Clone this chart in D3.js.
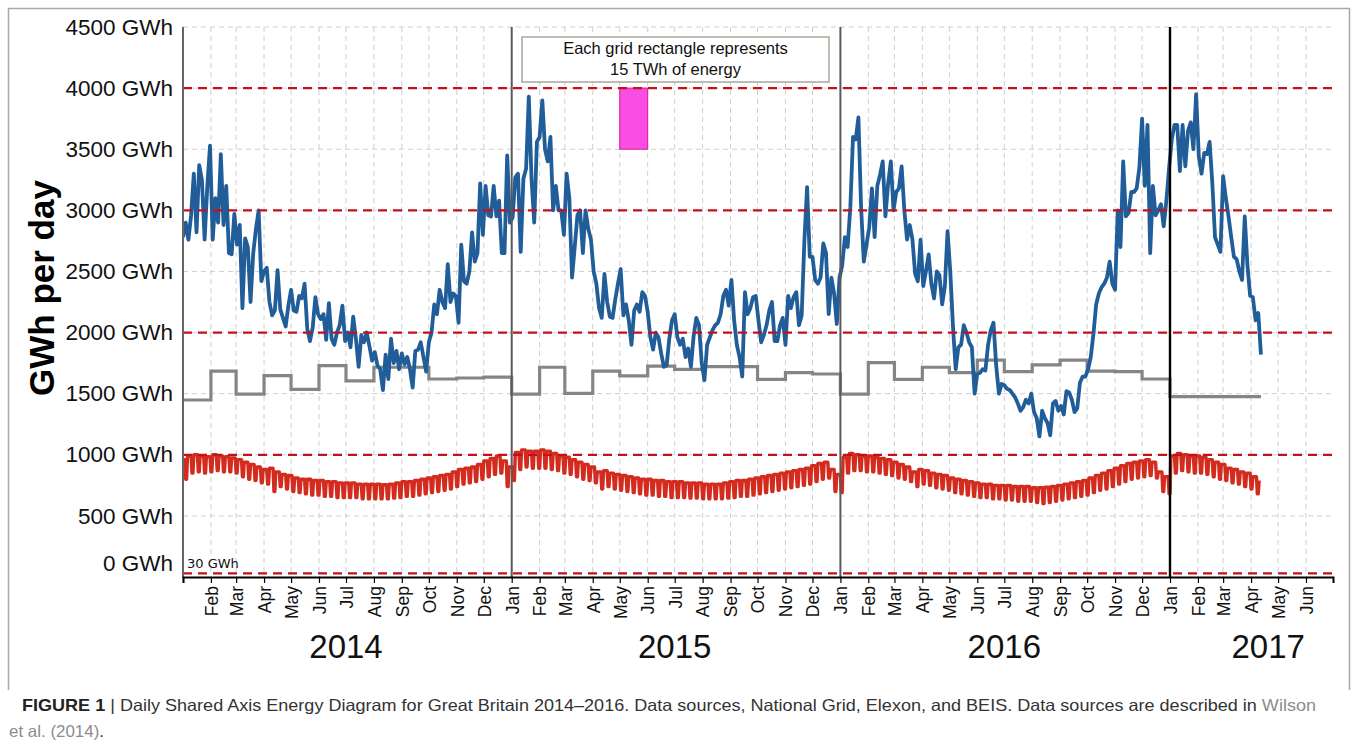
<!DOCTYPE html>
<html><head><meta charset="utf-8">
<script src="https://cdn.jsdelivr.net/npm/d3@7"></script>
<style>
body{margin:0;background:#fff;}
svg{display:block;font-family:"Liberation Sans",Arial,Helvetica,sans-serif;}
</style>
</head><body>
<svg id="chart" width="1356" height="744"></svg>
<script>
// ---------------- DATA ----------------
// Daily demand (blue), sampled every 3 days from 2014-01-01 (GWh/day)
const blueStart = "2014-01-01";
const blueStepDays = 3;
const blueValues = [
 2780,2900,2760,2960,3300,2820,3370,3250,2760,3200,
 3530,2760,3100,2900,3460,2880,3200,2650,2640,2970,
 2720,2880,2200,2770,2700,2250,2650,2850,3000,2420,
 2500,2530,2250,2140,2180,2510,2190,2120,2050,2220,
 2350,2180,2170,2300,2280,2400,2030,1930,2040,2290,
 2150,2110,2150,1940,2240,1950,1900,2000,2060,2220,
 1930,2000,1880,2130,1950,1720,1980,1920,2000,1890,
 1770,1840,1730,1700,1530,1820,1620,1950,1750,1850,
 1700,1830,1740,1800,1700,1550,1850,1860,1920,1800,
 1680,1920,2000,2230,2150,2350,2250,2200,2560,2250,
 2320,2300,2080,2720,2420,2400,2500,2820,2580,2650,
 3220,2800,3200,2960,2950,3200,2950,3080,2650,2650,
 3450,2900,2940,3270,3300,2660,3260,3340,3930,3260,
 2900,3560,3600,3900,3500,3400,3600,3000,3200,3000,
 3000,2800,3300,3100,2450,2700,2960,3000,2650,3000,
 2850,2760,2500,2400,2200,2120,2480,2250,2130,2120,
 2270,2400,2520,2140,2230,2100,1900,2180,2230,2170,
 2330,2300,2170,1960,1860,2000,1960,1830,1720,1730,
 1950,2100,2150,1960,1900,1950,1800,1870,1720,1970,
 2120,2060,1750,1610,1900,1960,2020,2060,2080,2150,
 2300,2350,2220,2430,2100,1900,1800,1640,2330,2150,
 2200,2290,2300,2100,1920,1980,2060,2180,2250,1930,
 1930,2060,2120,1900,2300,2200,2290,2330,2060,2140,
 2750,3190,2620,2620,2430,2400,2450,2730,2650,2150,
 2450,2320,2070,2450,2550,2780,2700,3020,3600,3580,
 3760,3020,2580,2720,2860,3180,2780,3200,3290,3400,
 2950,3220,3400,3000,3150,3180,3360,3000,2760,2880,
 2760,2480,2420,2760,2380,2500,2640,2400,2280,2500,
 2470,2230,2380,2830,2500,2050,1700,1880,1900,2060,
 2000,1920,1880,1500,1660,1670,1700,1690,1900,2020,
 2080,1730,1500,1580,1570,1540,1530,1500,1470,1420,
 1360,1390,1450,1420,1500,1350,1300,1150,1360,1300,
 1260,1160,1420,1440,1360,1400,1330,1520,1510,1450,
 1350,1380,1590,1640,1640,1700,1800,1990,2230,2320,
 2370,2400,2450,2580,2400,2350,3000,2700,3400,2950,
 2980,3150,3150,3180,3350,3750,3200,3700,2650,3200,
 2960,3000,3050,2870,3080,3350,3580,3700,3700,3320,
 3700,3360,3650,3720,3500,3950,3440,3300,3470,3460,
 3560,3220,2780,2720,2660,3280,3100,2950,2780,2620,
 2600,2500,2430,2950,2550,2300,2290,2100,2160,1820
];

// Electricity (red): weekly weekday level and weekend level, weeks starting Monday 2013-12-30
const redWeekStart = "2013-12-30";
const redWeekday = [
 // 2014
 960,990,1000,990,985, 1000,990,985,975, 960,940,920,900, 880,890,860,840,830,
 810,800,800,790, 790,780,780,770, 770,770,760,760,760, 760,755,760,770,
 780,780,790,800, 810,820,830,840,860, 880,890,900,920, 950,970,990,950,900,
 // 2015
 1020,1040,1030,1030, 1040,1030,1010,990, 980,960,940,920,900, 860,870,850,840,
 830,820,810,800, 800,790,790,780,780, 780,770,770,770, 760,760,760,770,
 780,790,790,800,810, 820,830,840,850, 860,870,880,890, 910,930,940,880,840,
 // 2016
 980,1010,1000,990, 990,980,970,960, 940,920,900,860,880, 870,850,840,830,
 810,800,790,780, 770,760,760,750,750, 750,740,740,740, 730,730,735,740,
 750,760,770,780,790, 810,830,850,870, 890,910,930,940, 950,960,940,860,820,
 // 2017
 990,1010,1000,990, 990,980,960,940, 920,890,880,860,850, 820,790
];
const redWeekend = [
 // 2014
 800,850,860,850,860, 870,860,860,850, 820,800,790,770, 760,700,740,720,700,
 690,680,670,670, 660,660,650,650, 650,650,640,640,640, 640,640,645,650,
 660,660,670,680, 690,700,710,720,740, 760,770,780,800, 820,840,850,740,790,
 // 2015
 880,900,890,890, 890,880,870,850, 840,820,800,790,770, 720,740,720,710,
 700,690,680,670, 670,660,660,650,650, 650,645,645,640, 640,640,640,645,
 650,660,660,670,680, 690,700,710,720, 730,740,750,760, 780,800,810,700,690,
 // 2016
 850,870,870,860, 860,850,840,830, 810,800,780,740,760, 750,730,720,710,
 690,680,670,660, 650,650,640,640,630, 630,620,620,620, 610,600,610,620,
 630,640,650,660,670, 690,710,720,740, 760,780,800,810, 820,830,810,700,680,
 // 2017
 850,870,860,850, 850,840,820,800, 790,770,760,740,720, 680,660
];

// Monthly values (grey step line), Jan 2014 - Apr 2017
const greyValues = [
 1448,1685,1497,1647,1535,1729,1604,1716,1716,1620,1628,1635,
 1497,1716,1503,1685,1645,1726,1699,1721,1721,1617,1672,1661,
 1497,1754,1617,1716,1672,1775,1680,1735,1775,1685,1680,1620,
 1475,1475,1475,1475
];
const dataEnd = "2017-04-12";

const yTicks = [0,500,1000,1500,2000,2500,3000,3500,4000,4500];
const refLines = [4000,3000,2000,1000,30];
const yearLabels = ["2014","2015","2016","2017"];
const yearLabelDates = ["2014-07-01","2015-07-01","2016-07-01","2017-04-20"];
const yearLines = ["2015-01-01","2016-01-01","2017-01-01"];
const energyBox = {start:"2015-05-01", end:"2015-06-01", low:3500, high:4000};
const legendLines = ["Each grid rectangle represents","15 TWh of energy"];

// ---------------- CHART ----------------
const parse = s => new Date(s + "T00:00:00Z");
const svg = d3.select("#chart");
const x = d3.scaleUtc().domain([parse("2014-01-01"), parse("2017-07-01")]).range([183, 1333]);
const y = d3.scaleLinear().domain([0, 4500]).range([577, 27]);
const X0 = x.range()[0], X1 = x.range()[1];

// outer frame
svg.append("path").attr("d","M8.5,690 V8.5 H1349.5 V690")
  .attr("fill","none").attr("stroke","#a8a8a8").attr("stroke-width",1.5);

// grid
const months = d3.utcMonth.range(parse("2014-02-01"), parse("2017-07-01"));
svg.append("g").selectAll("line").data(months).join("line")
  .attr("x1", d => x(d)).attr("x2", d => x(d)).attr("y1", y(4500)).attr("y2", y(0))
  .attr("stroke","#cfcfcf").attr("stroke-width",1).attr("stroke-dasharray","5,4");
svg.append("g").selectAll("line").data(yTicks.filter(v => v > 0)).join("line")
  .attr("x1", X0).attr("x2", X1).attr("y1", d => y(d)).attr("y2", d => y(d))
  .attr("stroke","#cfcfcf").attr("stroke-width",1).attr("stroke-dasharray","5,4");

// energy rectangle
svg.append("rect")
  .attr("x", x(parse(energyBox.start))).attr("width", x(parse(energyBox.end)) - x(parse(energyBox.start)))
  .attr("y", y(energyBox.high)).attr("height", y(energyBox.low) - y(energyBox.high))
  .attr("fill","#f94ee2").attr("stroke","#e3179c").attr("stroke-width",1);

// clip
svg.append("clipPath").attr("id","clip").append("rect")
  .attr("x", X0).attr("y", 0).attr("width", X1 - X0).attr("height", y(0));

const endDate = parse(dataEnd);

// grey step line
const greyDates = d3.utcMonth.range(parse("2014-01-01"), parse("2017-05-01"));
const greyPts = greyValues.map((v,i) => [greyDates[i], v]);
greyPts.push([endDate, greyValues[greyValues.length-1]]);
svg.append("path").datum(greyPts).attr("clip-path","url(#clip)")
  .attr("fill","none").attr("stroke","#858585").attr("stroke-width",3.2)
  .attr("d", d3.line().x(d => x(d[0])).y(d => y(d[1])).curve(d3.curveStepAfter));

// red weekly line
const rs = parse(redWeekStart);
const redPts = [];
redWeekday.forEach((hi, i) => {
  const lo = redWeekend[i];
  const s = d3.utcDay.offset(rs, 7*i);
  redPts.push([s, hi]);
  redPts.push([d3.utcDay.offset(s, 4), hi]);
  redPts.push([d3.utcDay.offset(s, 5), lo]);
  redPts.push([d3.utcDay.offset(s, 6), lo]);
});
svg.append("path").datum(redPts.filter(d => d[0] <= endDate)).attr("clip-path","url(#clip)")
  .attr("fill","none").attr("stroke","#d42b1f").attr("stroke-width",3.4).attr("stroke-linejoin","round")
  .attr("d", d3.line().x(d => x(d[0])).y(d => y(d[1])));

// blue line
const bs = parse(blueStart);
const bluePts = blueValues.map((v,i) => [d3.utcDay.offset(bs, i*blueStepDays), v]);
svg.append("path").datum(bluePts).attr("clip-path","url(#clip)")
  .attr("fill","none").attr("stroke","#215e99").attr("stroke-width",3.8).attr("stroke-linejoin","round")
  .attr("d", d3.line().x(d => x(d[0])).y(d => y(d[1])));

// red dashed reference lines
svg.append("g").selectAll("line").data(refLines).join("line")
  .attr("x1", X0).attr("x2", X1 + 5).attr("y1", d => y(d)).attr("y2", d => y(d))
  .attr("stroke","#c3111c").attr("stroke-width",2.2).attr("stroke-dasharray","9,6");

// year separators
svg.append("g").selectAll("line").data(yearLines).join("line")
  .attr("x1", d => x(parse(d))).attr("x2", d => x(parse(d))).attr("y1", y(4500)).attr("y2", y(0))
  .attr("stroke", (d,i) => i === 2 ? "#000" : "#5a5a5a").attr("stroke-width", (d,i) => i === 2 ? 2.4 : 2);

// y axis
const gy = svg.append("g").attr("transform", `translate(${X0},0)`)
  .call(d3.axisLeft(y).tickValues(yTicks).tickFormat(d => d + " GWh").tickSize(0).tickPadding(10));
gy.select(".domain").remove();
gy.selectAll("text").attr("font-size", 22.5).attr("fill","#111").attr("font-family","Liberation Sans, Arial, sans-serif");
gy.selectAll(".tick").filter(d => d === 0).select("text").attr("y", -14);
svg.append("line").attr("x1", X0).attr("x2", X0).attr("y1", y(4500)).attr("y2", y(0) + 1)
  .attr("stroke","#666").attr("stroke-width",2);

// x axis
const allMonths = d3.utcMonth.range(parse("2014-01-01"), parse("2017-07-01"));
const gx = svg.append("g").attr("transform", `translate(0,${y(0)})`)
  .call(d3.axisBottom(x).tickValues(allMonths).tickSize(6)
    .tickFormat(d => (+d === +parse("2014-01-01")) ? "" : d3.utcFormat("%b")(d)));
gx.select(".domain").attr("stroke","#000").attr("stroke-width",2);
gx.selectAll(".tick line").attr("stroke","#000").attr("stroke-width",1.2);
gx.selectAll("text")
  .attr("transform","rotate(-90)").attr("x",-9).attr("y",0).attr("dy","0.36em")
  .style("text-anchor","end").attr("font-size",17.5).attr("fill","#111")
  .attr("font-family","Liberation Sans, Arial, sans-serif");

// year labels
svg.append("g").selectAll("text").data(yearLabels).join("text")
  .attr("x", (d,i) => x(parse(yearLabelDates[i]))).attr("y", 658)
  .attr("text-anchor","middle").attr("font-size",33).attr("fill","#111").text(d => d);

// y title
svg.append("text").attr("transform","translate(54,288) rotate(-90)")
  .attr("text-anchor","middle").attr("font-size",35).attr("font-weight","bold").attr("fill","#000")
  .text("GWh per day");

// 30 GWh label
svg.append("text").attr("x", 187).attr("y", 568).attr("font-size",13)
  .attr("font-family","DejaVu Sans, sans-serif").attr("fill","#111").text(refLines[4] + " GWh");

// legend box
svg.append("rect").attr("x",522).attr("y",37).attr("width",307).attr("height",45)
  .attr("fill","#fff").attr("stroke","#aaa698").attr("stroke-width",1.5);
svg.append("g").selectAll("text").data(legendLines).join("text")
  .attr("x",675.5).attr("y",(d,i) => 54 + i*21).attr("text-anchor","middle")
  .attr("font-size",16.5).attr("fill","#111").text(d => d);

// caption
const cap = svg.append("text").attr("x",22).attr("y",711).attr("font-size",16.5)
  .attr("font-family","Liberation Sans Narrow, Liberation Sans, Arial, sans-serif")
  .attr("textLength",1294).attr("lengthAdjust","spacingAndGlyphs").attr("fill","#333");
cap.append("tspan").attr("font-weight","bold").attr("fill","#222").text("FIGURE 1");
cap.append("tspan").text(" | Daily Shared Axis Energy Diagram for Great Britain 2014–2016. Data sources, National Grid, Elexon, and BEIS. Data sources are described in ");
cap.append("tspan").attr("fill","#8c8c8c").text("Wilson");
const cap2 = svg.append("text").attr("x",9).attr("y",737).attr("font-size",16.5)
  .attr("font-family","Liberation Sans Narrow, Liberation Sans, Arial, sans-serif")
  .attr("textLength",95).attr("lengthAdjust","spacingAndGlyphs").attr("fill","#333");
cap2.append("tspan").attr("fill","#8c8c8c").text("et al. (2014)");
cap2.append("tspan").text(".");
</script>
</body></html>
